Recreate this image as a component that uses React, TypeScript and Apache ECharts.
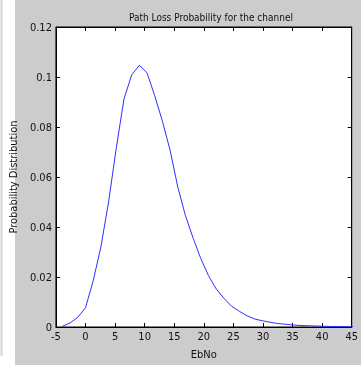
import React, { useEffect, useRef } from "react";
import * as echarts from "echarts";

const ebno = [
  -3.9, -2.6, -1.3, 0, 1.3, 2.6, 3.9, 5.2, 6.5, 7.8, 9.1, 10.4, 11.7, 13, 14.3, 15.6,
  16.9, 18.2, 19.5, 20.8, 22.1, 23.4, 24.7, 26, 27.3, 28.6, 29.9, 31.2, 32.5, 33.8,
  35.1, 36.4, 37.7, 39, 40.3, 41.6, 42.9, 44.2, 45.5,
];
const prob = [
  0.0003, 0.0016, 0.0039, 0.0077, 0.0185, 0.032, 0.05, 0.0715, 0.0912, 0.1008, 0.1047,
  0.1017, 0.0925, 0.0823, 0.0707, 0.056, 0.0445, 0.0355, 0.0273, 0.0205, 0.0152, 0.0115,
  0.0083, 0.0063, 0.0045, 0.0032, 0.0025, 0.0019, 0.0014, 0.0011, 0.0008, 0.0006, 0.0005,
  0.0004, 0.0003, 0.0002, 0.0002, 0.0001, 0.0001,
];
const titleText = "Path Loss Probability for the channel";
const xName = "EbNo";
const yName = "Probability Distribution";

const FONT = "'Liberation Sans Narrow', 'DejaVu Sans Condensed', Arial, sans-serif";

export default function App() {
  const ref = useRef<HTMLDivElement>(null);
  useEffect(() => {
    if (!ref.current) return;
    const chart = echarts.init(ref.current, undefined, { renderer: "svg" });
    const tickStyle = { show: true, inside: true, length: 4, lineStyle: { color: "#000", width: 1 } };
    const lineStyle = { show: true, onZero: false, lineStyle: { color: "#000", width: 1 } };
    chart.setOption({
      animation: false,
      backgroundColor: "transparent",
      graphic: [
        { type: "rect", z: -10, silent: true, shape: { x: 15, y: 0, width: 346, height: 365 }, style: { fill: "#cccccc" } },
        { type: "line", z: -10, silent: true, shape: { x1: 1.5, y1: 0, x2: 1.5, y2: 356 }, style: { stroke: "#d4d4d4", lineWidth: 2 } },
      ],
      title: {
        text: titleText,
        left: 206,
        top: 7,
        textAlign: "center",
        textStyle: { fontFamily: FONT, fontSize: 10, fontWeight: "normal", color: "#111" },
      },
      grid: {
        left: 55.5,
        right: 3.5,
        top: 27,
        bottom: 34,
        show: true,
        backgroundColor: "#ffffff",
        borderColor: "#000",
        borderWidth: 1,
      },
      xAxis: [
        {
          type: "value",
          min: -5,
          max: 45,
          interval: 5,
          position: "bottom",
          name: xName,
          nameLocation: "middle",
          nameGap: 22,
          nameTextStyle: { fontFamily: FONT, fontSize: 11, color: "#111" },
          axisLine: lineStyle,
          axisTick: tickStyle,
          splitLine: { show: false },
          axisLabel: { fontFamily: FONT, fontSize: 11, color: "#111", margin: 4 },
        },
        {
          type: "value",
          min: -5,
          max: 45,
          interval: 5,
          position: "top",
          axisLine: lineStyle,
          axisTick: tickStyle,
          splitLine: { show: false },
          axisLabel: { show: false },
        },
      ],
      yAxis: [
        {
          type: "value",
          min: 0,
          max: 0.12,
          interval: 0.02,
          position: "left",
          name: yName,
          nameLocation: "middle",
          nameGap: 30,
          nameTextStyle: { fontFamily: FONT, fontSize: 11, color: "#111" },
          axisLine: lineStyle,
          axisTick: tickStyle,
          splitLine: { show: false },
          axisLabel: { fontFamily: FONT, fontSize: 11, color: "#111", margin: 4 },
        },
        {
          type: "value",
          min: 0,
          max: 0.12,
          interval: 0.02,
          position: "right",
          axisLine: lineStyle,
          axisTick: tickStyle,
          splitLine: { show: false },
          axisLabel: { show: false },
        },
      ],
      series: [
        {
          type: "line",
          xAxisIndex: 0,
          yAxisIndex: 0,
          data: ebno.map((x, i) => [x, prob[i]]),
          symbol: "none",
          clip: true,
          lineStyle: { color: "#3030ff", width: 1 },
        },
      ],
    });
    return () => chart.dispose();
  }, []);
  return <div ref={ref} style={{ position: "fixed", left: 0, top: 0, width: 361, height: 365 }} />;
}
